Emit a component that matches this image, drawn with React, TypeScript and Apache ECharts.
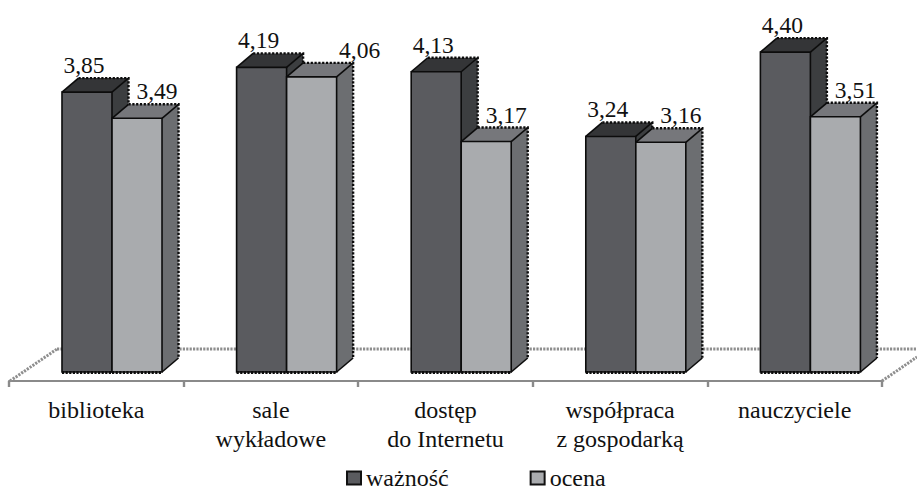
import React, { useEffect, useRef } from "react";
import * as echarts from "echarts";

const categories = ["biblioteka", "sale\nwykładowe", "dostęp\ndo Internetu", "współpraca\nz gospodarką", "nauczyciele"];
const waznosc = [3.85, 4.19, 4.13, 3.24, 4.4];
const ocena = [3.49, 4.06, 3.17, 3.16, 3.51];

const FONT = '"Liberation Serif", "Times New Roman", serif';
const DEPTH_X = 16.5;
const DEPTH_Y = 14;
const BAR_BAND_RATIO = 0.2864;

// Builds a renderItem that extrudes each value into a box with its value written above it.
function boxRenderer(
  barOffsetBands: number,
  front: string,
  top: string,
  side: string,
  labelShift: (i: number) => number,
) {
  return (_params: any, api: any) => {
    const i = api.value(0);
    const v = api.value(1);
    const band = api.size([1, 0])[0];
    const [cx, yTop] = api.coord([i, v]);
    const [, yBase] = api.coord([i, 0]);
    const w = band * BAR_BAND_RATIO;
    const x0 = cx + band * barOffsetBands;
    const x1 = x0 + w;
    const dx = DEPTH_X;
    const dy = DEPTH_Y;
    const edge = { stroke: "#0c0c0c", lineWidth: 1.6 };
    const seg = (a: number[], b: number[]) => ({
      type: "line",
      shape: { x1: a[0], y1: a[1], x2: b[0], y2: b[1] },
      style: edge,
    });
    return {
      type: "group",
      children: [
        {
          type: "polygon",
          shape: { points: [[x1, yTop], [x1 + dx, yTop - dy], [x1 + dx, yBase - dy], [x1, yBase]] },
          style: { fill: side },
        },
        {
          type: "polygon",
          shape: { points: [[x0, yTop], [x0 + dx, yTop - dy], [x1 + dx, yTop - dy], [x1, yTop]] },
          style: { fill: top },
        },
        // The far edges of the box are dotted, the near ones solid.
        {
          type: "polyline",
          shape: { points: [[x0 + dx, yTop - dy], [x1 + dx, yTop - dy], [x1 + dx, yBase - dy]] },
          style: { fill: "none", stroke: "#0c0c0c", lineWidth: 2.4, lineDash: [2.2, 1.6] },
        },
        seg([x0, yTop], [x0 + dx, yTop - dy]),
        seg([x1, yTop], [x1 + dx, yTop - dy]),
        seg([x1, yBase], [x1 + dx, yBase - dy]),
        {
          type: "rect",
          shape: { x: x0, y: yTop, width: w, height: yBase - yTop },
          style: { fill: front, stroke: "#0c0c0c", lineWidth: 1.6 },
        },
        {
          type: "line",
          shape: { x1: x0, y1: yBase + 0.5, x2: x1, y2: yBase + 0.5 },
          style: { stroke: "#0c0c0c", lineWidth: 3, lineDash: [2.2, 1.4] },
        },
        {
          type: "text",
          style: {
            text: v.toFixed(2).replace(".", ","),
            x: x0 + labelShift(i),
            y: yTop - dy - 1,
            align: "center",
            verticalAlign: "bottom",
            font: `23.5px ${FONT}`,
            fill: "#111",
          },
        },
      ],
    };
  };
}

// Floor of the plot: the receding side edges and the far edge behind the bars.
function floorRenderer(params: any) {
  const { x, y, width, height } = params.coordSys;
  const yFront = y + height + 9;
  const yBack = y + height - 23;
  const xEnd = x + width;
  const lineStyle = { stroke: "#8e8e8e", lineWidth: 3, lineDash: [2.2, 1.2], fill: "none" };
  return {
    type: "group",
    children: [
      { type: "line", shape: { x1: x + 1, y1: yFront, x2: x + 48, y2: yBack }, style: lineStyle },
      { type: "line", shape: { x1: x + 48, y1: yBack, x2: xEnd + 40, y2: yBack }, style: lineStyle },
      { type: "line", shape: { x1: xEnd, y1: yFront, x2: xEnd + 35, y2: yFront - 24 }, style: lineStyle },
    ],
  };
}

export default function App() {
  const ref = useRef<HTMLDivElement>(null);

  useEffect(() => {
    const chart = echarts.init(ref.current!, undefined, { renderer: "svg" });
    const legendBorder = { borderColor: "#111", borderWidth: 2 };
    chart.setOption({
      animation: false,
      backgroundColor: "#fff",
      textStyle: { fontFamily: FONT },
      grid: { left: 9, right: 35, top: 8.5, bottom: 119 },
      xAxis: {
        type: "category",
        data: categories,
        offset: 9,
        axisLine: { onZero: false, lineStyle: { color: "#8a8a8a", width: 2 } },
        axisTick: { show: true, alignWithLabel: false, interval: 0, length: 6, lineStyle: { color: "#8a8a8a", width: 2.4 } },
        axisLabel: { color: "#111", fontSize: 24, lineHeight: 29, fontFamily: FONT, margin: 14, interval: 0 },
      },
      yAxis: { type: "value", min: 0, max: 5, show: false },
      legend: {
        left: 341,
        top: 461,
        icon: "rect",
        itemWidth: 14,
        itemHeight: 13,
        itemGap: 81,
        itemStyle: { ...legendBorder },
        textStyle: { fontSize: 24, lineHeight: 20, color: "#111", fontFamily: FONT },
        data: [
          { name: "ważność", itemStyle: { color: "#5a5b5f", ...legendBorder } },
          { name: "ocena", itemStyle: { color: "#a9abae", ...legendBorder } },
        ],
      },
      series: [
        {
          type: "custom",
          silent: true,
          data: [[0, 0]],
          z: 1,
          renderItem: floorRenderer,
        },
        {
          type: "custom",
          name: "ważność",
          itemStyle: { color: "#5a5b5f" },
          encode: { x: 0, y: 1 },
          data: waznosc.map((v, i) => [i, v]),
          z: 2,
          renderItem: boxRenderer(-0.1965, "#5a5b5f", "#343537", "#3c3e40", () => 22),
        },
        {
          type: "custom",
          name: "ocena",
          itemStyle: { color: "#a9abae" },
          encode: { x: 0, y: 1 },
          data: ocena.map((v, i) => [i, v]),
          z: 3,
          // The second category's label sits further right, clear of the taller neighbour.
          renderItem: boxRenderer(0.09, "#a9abae", "#76777b", "#6c6e71", (i) => (i === 1 ? 73 : 45)),
        },
      ],
    });
    return () => chart.dispose();
  }, []);

  return <div ref={ref} style={{ position: "fixed", left: 0, top: 0, width: 917, height: 491 }} />;
}
